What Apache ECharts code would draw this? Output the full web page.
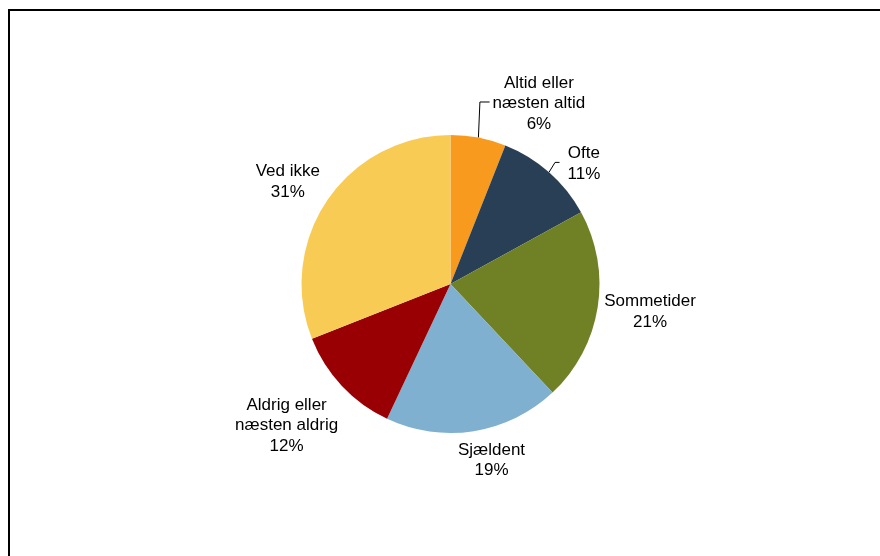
<!DOCTYPE html>
<html>
<head>
<meta charset="utf-8">
<script src="https://cdn.jsdelivr.net/npm/echarts@6/dist/echarts.min.js"></script>
<style>
  html, body { margin: 0; padding: 0; background: #ffffff; }
  #chart { width: 880px; height: 556px; }
</style>
</head>
<body>
<div id="chart"></div>
<script>
// Answer categories, clockwise from the top
const categories = [
  'Altid eller\nnæsten altid',
  'Ofte',
  'Sommetider',
  'Sjældent',
  'Aldrig eller\nnæsten aldrig',
  'Ved ikke'
];
// Share of respondents, percent
const shares = [6, 11, 21, 19, 12, 31];
const sliceColors = ['#F79A1E', '#283F55', '#708125', '#7FB0CF', '#990004', '#F8CB55'];

// Pie geometry
const CX = 450.5, CY = 284, R = 149;

// Label placement around the pie: angle (degrees clockwise from 12 o'clock) and distance from centre
const labelPlacement = [
  { ang: 26.1, dist: 201 },
  { ang: 48.0, dist: 179.5 },
  { ang: 98.0, dist: 201.5 },
  { ang: 166.9, dist: 181 },
  { ang: 229.2, dist: 216.5 },
  { ang: 302.1, dist: 192 }
];
// Slices whose label gets a leader line
const withLeader = [true, true, false, false, false, false];

const total = shares.reduce((a, b) => a + b, 0);
function midAngle(i) {
  let before = 0;
  for (let k = 0; k < i; k++) before += shares[k];
  return (before + shares[i] / 2) / total * 360;
}
function polar(angDeg, dist) {
  const a = angDeg * Math.PI / 180;
  return [CX + dist * Math.sin(a), CY - dist * Math.cos(a)];
}

const chart = echarts.init(document.getElementById('chart'), null, { renderer: 'canvas' });

const data = categories.map((name, i) => ({
  name: name,
  value: shares[i],
  itemStyle: { color: sliceColors[i] },
  labelLine: { show: withLeader[i] }
}));

chart.setOption({
  animation: false,
  backgroundColor: '#ffffff',
  graphic: [
    { type: 'line', shape: { x1: 8, y1: 10, x2: 880, y2: 10 }, style: { stroke: '#000', lineWidth: 2 } },
    { type: 'line', shape: { x1: 9, y1: 9, x2: 9, y2: 556 }, style: { stroke: '#000', lineWidth: 2 } }
  ],
  series: [{
    type: 'pie',
    center: [CX, CY],
    radius: [0, R],
    startAngle: 90,
    clockwise: true,
    avoidLabelOverlap: false,
    itemStyle: { borderWidth: 0 },
    emphasis: { disabled: true },
    label: {
      show: true,
      position: 'outside',
      formatter: p => p.name + '\n' + p.value + '%',
      fontFamily: '"Liberation Sans", Arial, sans-serif',
      fontSize: 17,
      lineHeight: 20.5,
      color: '#000',
      align: 'center'
    },
    labelLine: {
      show: false,
      lineStyle: { color: '#000', width: 1 }
    },
    labelLayout: function (params) {
      const i = params.dataIndex;
      const pl = labelPlacement[i];
      const pos = polar(pl.ang, pl.dist);
      const out = { x: pos[0], y: pos[1], align: 'center', verticalAlign: 'middle' };
      if (withLeader[i]) {
        const w = params.labelRect.width;
        const edge = polar(midAngle(i), R);
        const left = pos[0] - w / 2;
        const ly = pos[1] - 1.5;
        if (i === 0) {
          out.labelLinePoints = [edge, [edge[0] + 1.5, ly], [left - 3, ly]];
        } else {
          out.labelLinePoints = [edge, [edge[0] + 6, ly], [left - 8, ly]];
        }
      }
      return out;
    },
    data: data
  }]
});
</script>
</body>
</html>
